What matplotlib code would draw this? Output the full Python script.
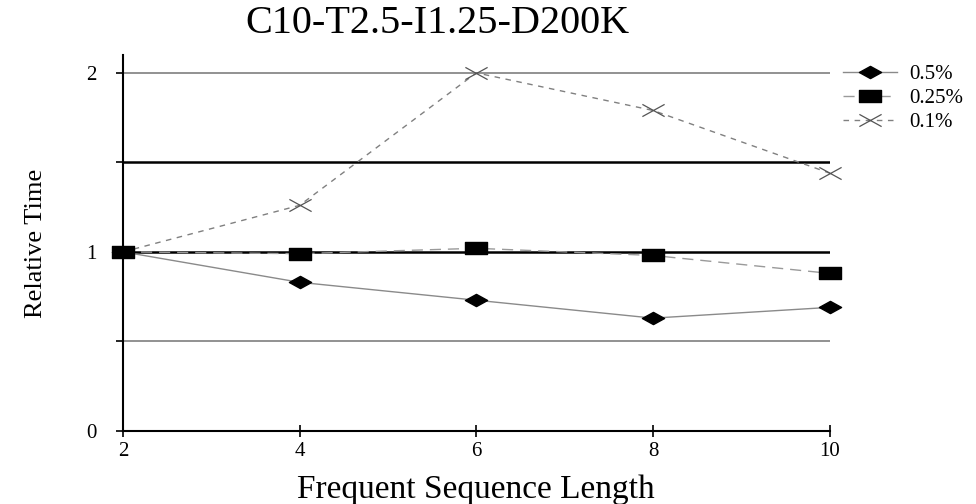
import matplotlib
matplotlib.use('Agg')
import matplotlib.pyplot as plt
from matplotlib.path import Path

# data
seq_len = [2, 4, 6, 8, 10]
rt_05 = [1.0, 0.83, 0.73, 0.63, 0.69]
rt_025 = [1.0, 0.99, 1.02, 0.98, 0.88]
rt_01 = [1.0, 1.26, 2.0, 1.79, 1.44]
series_names = ['0.5%', '0.25%', '0.1%']
grid_levels = [0.5, 1.0, 1.5, 2.0]
ytick_vals = [0, 1, 2]

plt.rcParams['font.family'] = ['Liberation Serif', 'DejaVu Serif']

# flattened markers (the source image is stretched sideways)
diamond = Path([(-1, 0), (0, 0.55), (1, 0), (0, -0.55), (-1, 0)],
               [Path.MOVETO, Path.LINETO, Path.LINETO, Path.LINETO, Path.CLOSEPOLY])
rect = Path([(-1, -0.55), (1, -0.55), (1, 0.55), (-1, 0.55), (-1, -0.55)],
            [Path.MOVETO, Path.LINETO, Path.LINETO, Path.LINETO, Path.CLOSEPOLY])
cross = Path([(-1, -0.55), (1, 0.55), (-1, 0.55), (1, -0.55)],
             [Path.MOVETO, Path.LINETO, Path.MOVETO, Path.LINETO])

fig = plt.figure(figsize=(9.76, 5.04), dpi=100)
ax = fig.add_axes([0.126, 0.145, 0.724, 0.746])

# horizontal reference lines
ax.hlines(grid_levels, seq_len[0], seq_len[-1],
          colors=['#7f7f7f', 'black', 'black', '#7f7f7f'],
          linewidths=[1.2, 1.8, 1.8, 1.2], zorder=1)

ax.plot(seq_len, rt_05, color='#8a8a8a', lw=1.0, marker=diamond, ms=16,
        mfc='black', mec='black', label=series_names[0], zorder=3, clip_on=False)
ax.plot(seq_len, rt_025, color='#9a9a9a', lw=1.0, ls=(0, (8, 5)), marker=rect, ms=16,
        mfc='black', mec='black', label=series_names[1], zorder=4, clip_on=False)
ax.plot(seq_len, rt_01, color='#808080', lw=1.0, ls=(0, (4, 4)), marker=cross, ms=16,
        mfc='none', mec='#555555', mew=0.9, label=series_names[2], zorder=2,
        clip_on=False)

ax.set_xlim(2, 10)
ax.set_ylim(0, 2.1)
ax.set_xticks(seq_len)
ax.set_yticks(ytick_vals)
ax.set_yticks(grid_levels[::2], minor=True)
ax.tick_params(axis='x', direction='inout', length=8, width=1.2, labelsize=15, pad=4)
ax.tick_params(axis='y', which='both', direction='out', length=5, width=1.2,
               labelsize=15, pad=14)

for s in ['top', 'right']:
    ax.spines[s].set_visible(False)
for s in ['left', 'bottom']:
    ax.spines[s].set_linewidth(1.5)
ax.spines['left'].set_bounds(0, 2.1)

ax.set_xlabel('Frequent Sequence Length', fontsize=24, labelpad=10)
ax.set_ylabel('Relative Time', fontsize=19, labelpad=28)

fig.text(0.448, 0.953, 'C10-T2.5-I1.25-D200K', fontsize=29,
         ha='center', va='center')

ax.legend(loc='upper left', bbox_to_anchor=(0.855, 0.888), bbox_transform=fig.transFigure,
          frameon=False, fontsize=15, handlelength=2.6, handletextpad=0.6,
          labelspacing=0.2, borderaxespad=0)

fig.savefig('out.png', dpi=100)
